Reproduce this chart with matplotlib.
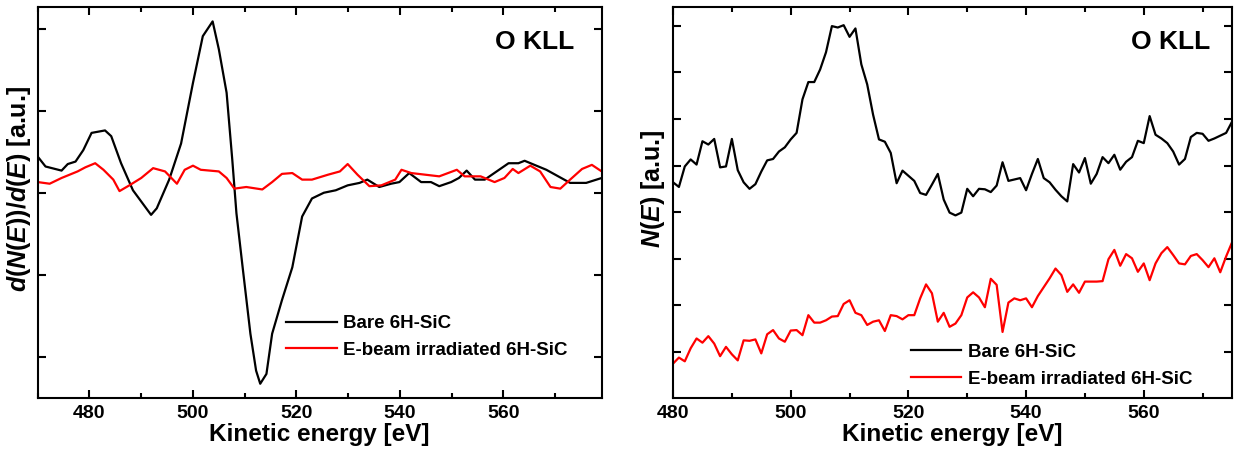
import matplotlib.pyplot as plt
import numpy as np
from matplotlib.ticker import MultipleLocator

plt.rcParams["font.family"] = ["Liberation Sans", "DejaVu Sans"]
plt.rcParams["mathtext.fontset"] = "custom"
plt.rcParams["mathtext.rm"] = "Liberation Sans:bold"
plt.rcParams["mathtext.it"] = "Liberation Sans:bold:italic"
plt.rcParams["mathtext.bf"] = "Liberation Sans:bold"

# derivative spectra (left panel)
E_D_BARE = [470, 471.5, 474.6, 475.8, 477.3, 478.8, 480.4, 483, 484.2, 486.1,
            488.4, 491.9, 493, 495.4, 497.7, 500, 501.9, 503.8, 505, 506.5,
            507.6, 508.4, 509.6, 511.1, 512.2, 513, 514.2, 515.3, 517.2, 519.2,
            521.1, 523, 525.3, 527.6, 529.9, 532.2, 533.7, 536, 538.3, 539.9,
            541.8, 544.1, 546, 547.6, 549.9, 551.4, 552.9, 554.5, 556.4, 558.7,
            561, 562.9, 564.1, 566, 568.3, 570.6, 572.9, 576, 579]
D_BARE = [0.44, 0.32, 0.27, 0.35, 0.38, 0.52, 0.73, 0.76, 0.69, 0.36,
          0.03, -0.27, -0.19, 0.16, 0.60, 1.34, 1.91, 2.09, 1.75, 1.22,
          0.40, -0.25, -0.91, -1.72, -2.17, -2.33, -2.21, -1.72, -1.31, -0.91,
          -0.29, -0.07, 0.00, 0.03, 0.09, 0.12, 0.16, 0.07, 0.11, 0.13,
          0.24, 0.13, 0.13, 0.08, 0.13, 0.18, 0.27, 0.16, 0.16, 0.26,
          0.36, 0.36, 0.39, 0.34, 0.28, 0.20, 0.12, 0.12, 0.18]

E_D_IRR = [470, 472.3, 474.6, 477.7, 479.2, 481.1, 482.7, 484.6, 485.8, 487.7,
           490, 492.3, 494.6, 496.9, 498.4, 500, 501.5, 505, 506.5, 508,
           510.3, 513.4, 515.3, 517.2, 519.2, 521.1, 523, 526.1, 528.4, 529.9,
           531.8, 534.1, 536.4, 539.1, 540.3, 542.2, 544.9, 547.6, 551, 552.5,
           555.6, 558.3, 560.2, 561.8, 562.9, 565.2, 567.1, 569.1, 571, 572.9,
           575.2, 577.1, 579]
D_IRR = [0.13, 0.11, 0.18, 0.26, 0.31, 0.36, 0.28, 0.16, 0.02, 0.09,
         0.18, 0.30, 0.26, 0.11, 0.28, 0.33, 0.28, 0.26, 0.18, 0.05,
         0.07, 0.04, 0.13, 0.23, 0.24, 0.16, 0.16, 0.22, 0.26, 0.35,
         0.22, 0.08, 0.09, 0.16, 0.28, 0.24, 0.22, 0.20, 0.28, 0.20,
         0.20, 0.13, 0.18, 0.29, 0.24, 0.33, 0.26, 0.07, 0.05, 0.16,
         0.29, 0.34, 0.26]

# direct spectra (right panel), 1 eV steps from 480 eV
E_N_START = 480
N_BARE = [0.64, 0.54, 0.98, 1.13, 1.02, 1.52, 1.45, 1.57, 0.96, 0.98,
          1.57, 0.90, 0.64, 0.50, 0.60, 0.87, 1.11, 1.14, 1.30, 1.39,
          1.56, 1.70, 2.42, 2.79, 2.79, 3.06, 3.43, 3.99, 3.96, 4.01,
          3.76, 3.94, 3.17, 2.74, 2.09, 1.56, 1.51, 1.27, 0.62, 0.89,
          0.78, 0.67, 0.41, 0.37, 0.59, 0.82, 0.27, -0.01, -0.07, -0.01,
          0.50, 0.34, 0.50, 0.49, 0.43, 0.57, 1.07, 0.67, 0.70, 0.73,
          0.47, 0.82, 1.14, 0.73, 0.64, 0.48, 0.34, 0.23, 1.03, 0.85,
          1.16, 0.61, 0.82, 1.18, 1.05, 1.23, 0.91, 1.08, 1.18, 1.53,
          1.48, 2.06, 1.66, 1.58, 1.48, 1.30, 1.02, 1.14, 1.61, 1.70,
          1.68, 1.53, 1.58, 1.64, 1.70, 1.94]
N_IRR = [-3.25, -3.12, -3.20, -2.92, -2.71, -2.80, -2.66, -2.82, -3.09, -2.89,
         -3.05, -3.18, -2.75, -2.76, -2.73, -3.03, -2.62, -2.53, -2.71, -2.78,
         -2.54, -2.53, -2.64, -2.21, -2.37, -2.37, -2.32, -2.24, -2.23, -1.97,
         -1.89, -2.16, -2.21, -2.42, -2.35, -2.32, -2.55, -2.21, -2.23, -2.30,
         -2.21, -2.21, -1.85, -1.55, -1.74, -2.35, -2.16, -2.46, -2.39, -2.21,
         -1.83, -1.72, -1.83, -2.04, -1.43, -1.56, -2.57, -1.94, -1.85, -1.89,
         -1.85, -2.04, -1.80, -1.61, -1.42, -1.21, -1.35, -1.71, -1.55, -1.73,
         -1.49, -1.49, -1.49, -1.48, -1.01, -0.81, -1.15, -0.90, -0.99, -1.28,
         -1.10, -1.46, -1.10, -0.88, -0.75, -0.92, -1.10, -1.12, -0.94, -0.90,
         -1.03, -1.18, -0.99, -1.29, -0.95, -0.65]

LABELS = ["Bare 6H-SiC", "E-beam irradiated 6H-SiC"]
X_TICKS = [480, 500, 520, 540, 560]


def style_axes(ax, title_x):
    ax.set_xticks(X_TICKS)
    ax.xaxis.set_minor_locator(MultipleLocator(10))
    ax.yaxis.set_major_locator(MultipleLocator(1))
    ax.tick_params(which="both", direction="in", top=True, right=True, width=1.5)
    ax.tick_params(which="major", length=6)
    ax.tick_params(which="minor", length=3.5)
    ax.tick_params(axis="y", labelleft=False)
    ax.tick_params(axis="x", labelsize=14, pad=5.5)
    for lab in ax.get_xticklabels():
        lab.set_fontweight("bold")
    for sp in ax.spines.values():
        sp.set_linewidth(1.5)
    ax.set_xlabel("Kinetic energy [eV]", fontsize=17.5, fontweight="bold", labelpad=0.5)
    ax.text(title_x, 0.912, "O KLL", transform=ax.transAxes, ha="right", va="center",
            fontsize=19, fontweight="bold")


def add_legend(ax, anchor):
    ax.legend(loc="lower left", bbox_to_anchor=anchor, frameon=False,
              prop={"size": 13.5, "weight": "bold"}, handlelength=2.7,
              handletextpad=0.35, labelspacing=0.5, borderpad=0, borderaxespad=0)


fig = plt.figure(figsize=(12.34, 4.58), dpi=100)
ax1 = fig.add_axes([0.0306, 0.1317, 0.457, 0.852])
ax2 = fig.add_axes([0.5454, 0.1317, 0.453, 0.852])

ax1.plot(E_D_BARE, D_BARE, color="black", lw=1.6, label=LABELS[0])
ax1.plot(E_D_IRR, D_IRR, color="#ff0000", lw=1.6, label=LABELS[1])
ax1.set_xlim(470, 579)
ax1.set_ylim(-2.50, 2.26)
style_axes(ax1, 0.951)
ax1.set_ylabel(r"$d(N(E))/d(E)$ [a.u.]", fontsize=18, fontweight="bold")
ax1.yaxis.set_label_coords(-0.008, 0.535)
add_legend(ax1, (0.44, 0.10))

e_n = E_N_START + np.arange(len(N_BARE))
ax2.plot(e_n, N_BARE, color="black", lw=1.6, label=LABELS[0])
ax2.plot(e_n, N_IRR, color="#ff0000", lw=1.6, label=LABELS[1])
ax2.set_xlim(480, 575)
ax2.set_ylim(-3.98, 4.39)
style_axes(ax2, 0.961)
ax2.set_ylabel(r"$N(E)$ [a.u.]", fontsize=18, fontweight="bold")
ax2.yaxis.set_label_coords(-0.011, 0.535)
add_legend(ax2, (0.425, 0.026))

fig.savefig("out.png", dpi=100)
